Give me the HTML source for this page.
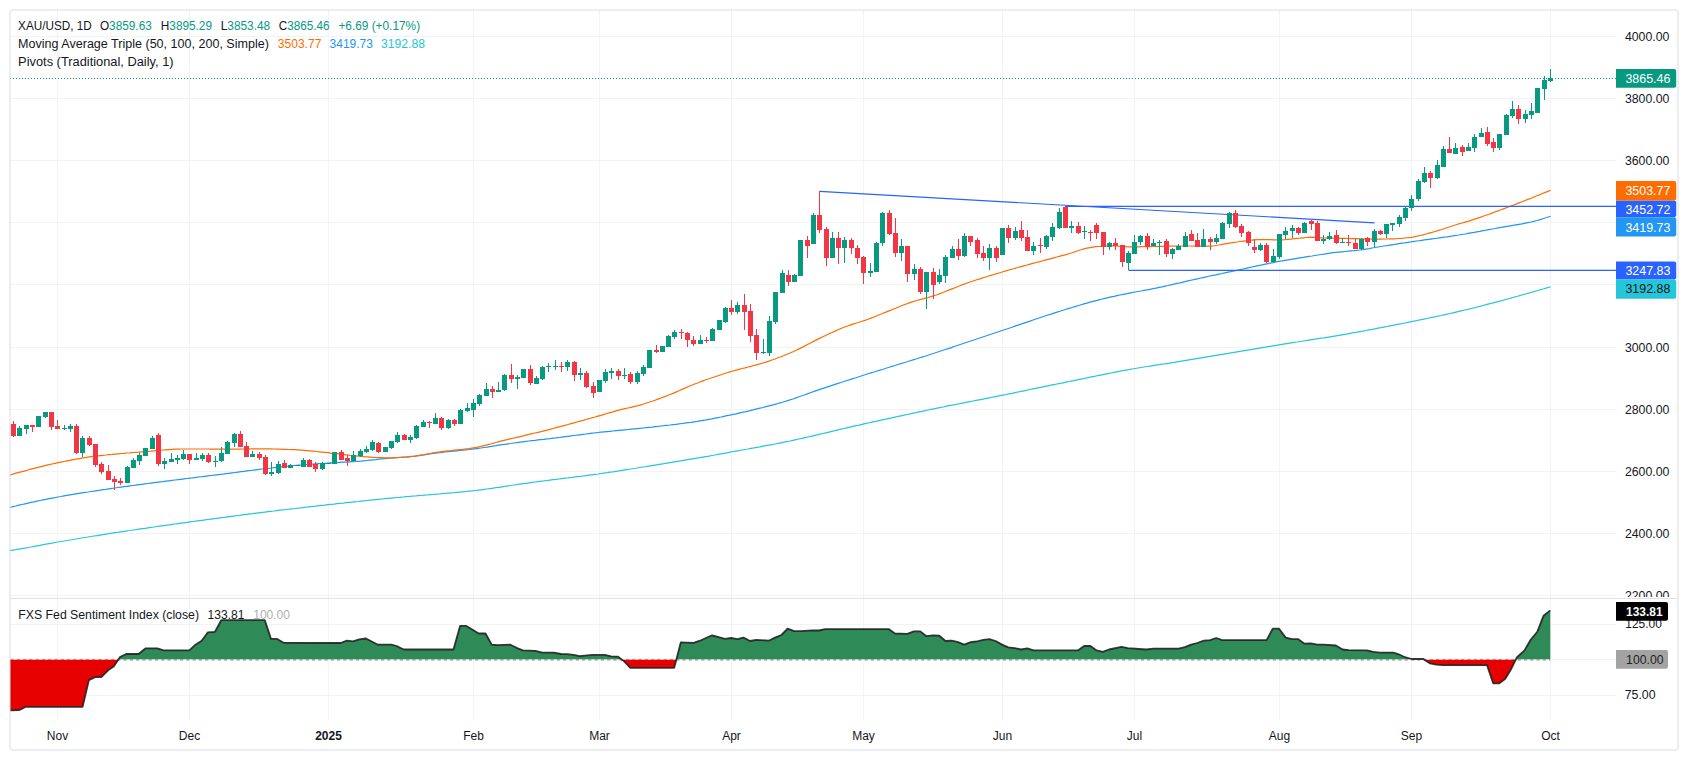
<!DOCTYPE html>
<html lang="en"><head><meta charset="utf-8"><title>XAU/USD 1D chart</title>
<style>html,body{margin:0;padding:0;background:#fff;width:1688px;height:762px;overflow:hidden}</style></head>
<body>
<svg width="1688" height="762" viewBox="0 0 1688 762" style="display:block;font-family:'Liberation Sans',sans-serif;font-size:12px">
<defs><clipPath id="cm"><rect x="10" y="10" width="1606" height="587.5"/></clipPath>
<clipPath id="cax"><rect x="1616" y="10" width="62" height="587"/></clipPath>
<clipPath id="cup"><rect x="0" y="598" width="1616" height="61.2"/></clipPath>
<clipPath id="cdn"><rect x="0" y="659.2" width="1616" height="62"/></clipPath></defs>
<rect width="1688" height="762" fill="#fff"/>
<path d="M57.5 10 V720.5 M189.5 10 V720.5 M328.5 10 V720.5 M473.5 10 V720.5 M599.5 10 V720.5 M731.5 10 V720.5 M863.5 10 V720.5 M1002.5 10 V720.5 M1134.5 10 V720.5 M1279.5 10 V720.5 M1411.5 10 V720.5 M1550.5 10 V720.5 M10 36.5 H1616 M10 98.5 H1616 M10 160.5 H1616 M10 222.5 H1616 M10 284.5 H1616 M10 347.5 H1616 M10 409.5 H1616 M10 471.5 H1616 M10 533.5 H1616 M10 595.5 H1616 M10 624.5 H1616 M10 695.5 H1616 M10 659.5 H1616" stroke="#f2f3f5" stroke-width="1" fill="none"/>
<path d="M10.5 659.8 H1550.3" stroke="#b2b2b2" stroke-width="2" stroke-dasharray="3.14 3.14" fill="none"/>
<path d="M10.0 659.2 L10.0 659.2 L10.7 659.2 L19.5 659.2 L25.8 659.2 L82.6 659.2 L88.9 659.2 L95.1 659.2 L101.3 659.2 L108.4 659.2 L113.7 659.2 L118.4 659.2 L120.0 657.0 L126.2 654.0 L138.6 654.0 L145.7 648.3 L157.3 648.3 L163.5 650.4 L189.3 650.4 L195.5 644.7 L201.7 640.7 L207.9 632.3 L215.0 631.8 L221.3 620.2 L264.8 620.2 L271.0 638.9 L277.2 638.9 L283.5 642.8 L340.6 643.0 L346.9 640.7 L353.1 641.4 L359.3 639.4 L365.9 638.5 L378.0 644.7 L391.3 644.7 L396.6 646.0 L403.7 649.5 L453.5 649.5 L460.1 625.9 L466.3 625.9 L472.2 629.6 L478.7 633.5 L485.5 633.5 L491.7 644.6 L497.9 645.1 L510.4 644.7 L516.6 647.8 L522.8 650.4 L535.2 650.8 L542.4 652.7 L553.9 652.7 L561.0 654.0 L567.2 654.2 L573.5 654.9 L579.7 656.1 L592.4 654.9 L604.9 654.9 L611.1 656.3 L617.7 656.6 L621.6 659.2 L623.9 659.2 L630.3 659.2 L674.2 659.2 L676.4 659.2 L680.8 642.4 L693.7 642.8 L700.0 640.7 L712.0 635.3 L718.6 637.1 L724.8 638.9 L731.1 638.0 L737.3 639.2 L743.5 637.6 L750.1 641.0 L756.3 639.8 L768.7 640.7 L775.1 637.6 L781.4 635.0 L787.6 628.6 L794.1 631.2 L800.4 631.2 L812.8 630.3 L819.0 630.5 L825.2 629.1 L888.7 629.1 L894.9 633.5 L907.3 633.9 L913.9 631.4 L920.3 631.4 L926.5 636.2 L933.1 635.3 L939.3 635.7 L945.5 641.0 L951.7 640.7 L958.0 642.1 L964.2 644.7 L970.8 642.1 L976.6 641.5 L983.2 639.8 L989.4 639.2 L995.6 641.0 L1002.0 644.6 L1008.3 647.4 L1014.8 648.1 L1021.1 649.5 L1027.3 648.3 L1033.5 650.4 L1077.9 650.4 L1084.1 646.0 L1090.4 646.0 L1096.6 650.4 L1102.8 651.8 L1109.0 649.5 L1121.5 646.9 L1127.7 648.1 L1146.3 649.5 L1153.5 648.6 L1178.7 648.6 L1184.9 647.2 L1191.1 644.6 L1197.3 643.0 L1203.9 640.7 L1210.3 640.1 L1216.2 638.0 L1222.2 640.1 L1266.6 640.1 L1272.8 628.7 L1279.1 628.7 L1285.6 637.6 L1292.0 639.2 L1298.3 639.2 L1304.5 643.7 L1310.7 643.3 L1317.3 644.6 L1323.5 644.6 L1335.9 645.5 L1342.5 649.5 L1348.7 650.1 L1367.0 650.4 L1373.3 651.8 L1379.8 652.7 L1393.3 652.7 L1398.7 654.3 L1404.9 657.2 L1411.6 659.0 L1423.5 659.0 L1424.1 659.2 L1430.1 659.2 L1436.3 659.2 L1443.1 659.2 L1487.0 659.2 L1493.2 659.2 L1499.4 659.2 L1505.3 659.2 L1510.6 659.2 L1515.9 659.2 L1516.8 657.5 L1524.5 650.4 L1530.7 639.8 L1537.3 631.8 L1543.5 615.8 L1550.3 610.4 L1550.3 659.2 Z" fill="#2e8b57"/>
<path d="M10.0 659.8 L10.0 710.4 L10.7 710.3 L19.5 710.0 L25.8 706.8 L82.6 706.8 L88.9 680.1 L95.1 677.1 L101.3 677.1 L108.4 670.0 L113.7 666.4 L118.4 659.8 L120.0 659.8 L126.2 659.8 L138.6 659.8 L145.7 659.8 L157.3 659.8 L163.5 659.8 L189.3 659.8 L195.5 659.8 L201.7 659.8 L207.9 659.8 L215.0 659.8 L221.3 659.8 L264.8 659.8 L271.0 659.8 L277.2 659.8 L283.5 659.8 L340.6 659.8 L346.9 659.8 L353.1 659.8 L359.3 659.8 L365.9 659.8 L378.0 659.8 L391.3 659.8 L396.6 659.8 L403.7 659.8 L453.5 659.8 L460.1 659.8 L466.3 659.8 L472.2 659.8 L478.7 659.8 L485.5 659.8 L491.7 659.8 L497.9 659.8 L510.4 659.8 L516.6 659.8 L522.8 659.8 L535.2 659.8 L542.4 659.8 L553.9 659.8 L561.0 659.8 L567.2 659.8 L573.5 659.8 L579.7 659.8 L592.4 659.8 L604.9 659.8 L611.1 659.8 L617.7 659.8 L621.6 659.8 L623.9 661.1 L630.3 667.8 L674.2 667.8 L676.4 659.8 L680.8 659.8 L693.7 659.8 L700.0 659.8 L712.0 659.8 L718.6 659.8 L724.8 659.8 L731.1 659.8 L737.3 659.8 L743.5 659.8 L750.1 659.8 L756.3 659.8 L768.7 659.8 L775.1 659.8 L781.4 659.8 L787.6 659.8 L794.1 659.8 L800.4 659.8 L812.8 659.8 L819.0 659.8 L825.2 659.8 L888.7 659.8 L894.9 659.8 L907.3 659.8 L913.9 659.8 L920.3 659.8 L926.5 659.8 L933.1 659.8 L939.3 659.8 L945.5 659.8 L951.7 659.8 L958.0 659.8 L964.2 659.8 L970.8 659.8 L976.6 659.8 L983.2 659.8 L989.4 659.8 L995.6 659.8 L1002.0 659.8 L1008.3 659.8 L1014.8 659.8 L1021.1 659.8 L1027.3 659.8 L1033.5 659.8 L1077.9 659.8 L1084.1 659.8 L1090.4 659.8 L1096.6 659.8 L1102.8 659.8 L1109.0 659.8 L1121.5 659.8 L1127.7 659.8 L1146.3 659.8 L1153.5 659.8 L1178.7 659.8 L1184.9 659.8 L1191.1 659.8 L1197.3 659.8 L1203.9 659.8 L1210.3 659.8 L1216.2 659.8 L1222.2 659.8 L1266.6 659.8 L1272.8 659.8 L1279.1 659.8 L1285.6 659.8 L1292.0 659.8 L1298.3 659.8 L1304.5 659.8 L1310.7 659.8 L1317.3 659.8 L1323.5 659.8 L1335.9 659.8 L1342.5 659.8 L1348.7 659.8 L1367.0 659.8 L1373.3 659.8 L1379.8 659.8 L1393.3 659.8 L1398.7 659.8 L1404.9 659.8 L1411.6 659.8 L1423.5 659.8 L1424.1 659.8 L1430.1 663.4 L1436.3 664.6 L1443.1 665.2 L1487.0 665.2 L1493.2 683.3 L1499.4 683.3 L1505.3 678.9 L1510.6 670.0 L1515.9 659.8 L1516.8 659.8 L1524.5 659.8 L1530.7 659.8 L1537.3 659.8 L1543.5 659.8 L1550.3 659.8 L1550.3 659.8 Z" fill="#e60000"/>
<path d="M10.0 710.4 L10.7 710.3 L19.5 710.0 L25.8 706.8 L82.6 706.8 L88.9 680.1 L95.1 677.1 L101.3 677.1 L108.4 670.0 L113.7 666.4 L118.4 659.4 L120.0 657.0 L126.2 654.0 L138.6 654.0 L145.7 648.3 L157.3 648.3 L163.5 650.4 L189.3 650.4 L195.5 644.7 L201.7 640.7 L207.9 632.3 L215.0 631.8 L221.3 620.2 L264.8 620.2 L271.0 638.9 L277.2 638.9 L283.5 642.8 L340.6 643.0 L346.9 640.7 L353.1 641.4 L359.3 639.4 L365.9 638.5 L378.0 644.7 L391.3 644.7 L396.6 646.0 L403.7 649.5 L453.5 649.5 L460.1 625.9 L466.3 625.9 L472.2 629.6 L478.7 633.5 L485.5 633.5 L491.7 644.6 L497.9 645.1 L510.4 644.7 L516.6 647.8 L522.8 650.4 L535.2 650.8 L542.4 652.7 L553.9 652.7 L561.0 654.0 L567.2 654.2 L573.5 654.9 L579.7 656.1 L592.4 654.9 L604.9 654.9 L611.1 656.3 L617.7 656.6 L621.6 659.4 L623.9 661.1 L630.3 667.8 L674.2 667.8 L676.4 659.4 L680.8 642.4 L693.7 642.8 L700.0 640.7 L712.0 635.3 L718.6 637.1 L724.8 638.9 L731.1 638.0 L737.3 639.2 L743.5 637.6 L750.1 641.0 L756.3 639.8 L768.7 640.7 L775.1 637.6 L781.4 635.0 L787.6 628.6 L794.1 631.2 L800.4 631.2 L812.8 630.3 L819.0 630.5 L825.2 629.1 L888.7 629.1 L894.9 633.5 L907.3 633.9 L913.9 631.4 L920.3 631.4 L926.5 636.2 L933.1 635.3 L939.3 635.7 L945.5 641.0 L951.7 640.7 L958.0 642.1 L964.2 644.7 L970.8 642.1 L976.6 641.5 L983.2 639.8 L989.4 639.2 L995.6 641.0 L1002.0 644.6 L1008.3 647.4 L1014.8 648.1 L1021.1 649.5 L1027.3 648.3 L1033.5 650.4 L1077.9 650.4 L1084.1 646.0 L1090.4 646.0 L1096.6 650.4 L1102.8 651.8 L1109.0 649.5 L1121.5 646.9 L1127.7 648.1 L1146.3 649.5 L1153.5 648.6 L1178.7 648.6 L1184.9 647.2 L1191.1 644.6 L1197.3 643.0 L1203.9 640.7 L1210.3 640.1 L1216.2 638.0 L1222.2 640.1 L1266.6 640.1 L1272.8 628.7 L1279.1 628.7 L1285.6 637.6 L1292.0 639.2 L1298.3 639.2 L1304.5 643.7 L1310.7 643.3 L1317.3 644.6 L1323.5 644.6 L1335.9 645.5 L1342.5 649.5 L1348.7 650.1 L1367.0 650.4 L1373.3 651.8 L1379.8 652.7 L1393.3 652.7 L1398.7 654.3 L1404.9 657.2 L1411.6 659.0 L1423.5 659.0 L1424.1 659.4 L1430.1 663.4 L1436.3 664.6 L1443.1 665.2 L1487.0 665.2 L1493.2 683.3 L1499.4 683.3 L1505.3 678.9 L1510.6 670.0 L1515.9 659.4 L1516.8 657.5 L1524.5 650.4 L1530.7 639.8 L1537.3 631.8 L1543.5 615.8 L1550.3 610.4" fill="none" stroke="#222" stroke-opacity="0.9" stroke-width="1.8" stroke-linejoin="round"/>
<g clip-path="url(#cm)">
<path d="M10.0 550.6 L13.0 550.1 L16.0 549.7 L19.0 549.1 L22.0 548.6 L25.0 548.1 L28.0 547.5 L31.0 547.0 L34.0 546.4 L37.0 545.8 L40.0 545.3 L43.0 544.7 L46.0 544.2 L49.0 543.6 L52.0 543.1 L55.0 542.5 L58.0 542.0 L61.0 541.5 L64.0 541.0 L67.0 540.5 L70.0 540.0 L73.0 539.5 L76.0 539.0 L79.0 538.5 L82.0 538.0 L85.0 537.5 L88.0 537.0 L91.0 536.5 L94.0 536.0 L97.0 535.6 L100.0 535.1 L103.0 534.6 L106.0 534.1 L109.0 533.7 L112.0 533.2 L115.0 532.7 L118.0 532.3 L121.0 531.8 L124.0 531.4 L127.0 530.9 L130.0 530.5 L133.0 530.0 L136.0 529.6 L139.0 529.1 L142.0 528.7 L145.0 528.3 L148.0 527.8 L151.0 527.4 L154.0 527.0 L157.0 526.5 L160.0 526.1 L163.0 525.7 L166.0 525.3 L169.0 524.9 L172.0 524.4 L175.0 524.0 L178.0 523.6 L181.0 523.2 L184.0 522.8 L187.0 522.4 L190.0 521.9 L193.0 521.5 L196.0 521.1 L199.0 520.7 L202.0 520.3 L205.0 519.9 L208.0 519.5 L211.0 519.1 L214.0 518.7 L217.0 518.3 L220.0 517.9 L223.0 517.5 L226.0 517.1 L229.0 516.7 L232.0 516.3 L235.0 515.9 L238.0 515.5 L241.0 515.1 L244.0 514.7 L247.0 514.3 L250.0 513.9 L253.0 513.6 L256.0 513.2 L259.0 512.8 L262.0 512.4 L265.0 512.1 L268.0 511.7 L271.0 511.3 L274.0 511.0 L277.0 510.6 L280.0 510.2 L283.0 509.9 L286.0 509.5 L289.0 509.2 L292.0 508.8 L295.0 508.5 L298.0 508.1 L301.0 507.8 L304.0 507.4 L307.0 507.1 L310.0 506.7 L313.0 506.4 L316.0 506.1 L319.0 505.7 L322.0 505.4 L325.0 505.1 L328.0 504.7 L331.0 504.4 L334.0 504.1 L337.0 503.7 L340.0 503.4 L343.0 503.1 L346.0 502.7 L349.0 502.4 L352.0 502.1 L355.0 501.8 L358.0 501.5 L361.0 501.1 L364.0 500.8 L367.0 500.5 L370.0 500.2 L373.0 499.9 L376.0 499.6 L379.0 499.3 L382.0 499.0 L385.0 498.7 L388.0 498.4 L391.0 498.1 L394.0 497.8 L397.0 497.5 L400.0 497.3 L403.0 497.0 L406.0 496.7 L409.0 496.5 L412.0 496.2 L415.0 496.0 L418.0 495.7 L421.0 495.5 L424.0 495.2 L427.0 495.0 L430.0 494.7 L433.0 494.5 L436.0 494.2 L439.0 494.0 L442.0 493.7 L445.0 493.5 L448.0 493.2 L451.0 492.9 L454.0 492.7 L457.0 492.4 L460.0 492.1 L463.0 491.8 L466.0 491.5 L469.0 491.2 L472.0 490.9 L475.0 490.5 L478.0 490.2 L481.0 489.8 L484.0 489.4 L487.0 489.0 L490.0 488.6 L493.0 488.2 L496.0 487.7 L499.0 487.3 L502.0 486.8 L505.0 486.4 L508.0 485.9 L511.0 485.5 L514.0 485.0 L517.0 484.6 L520.0 484.1 L523.0 483.7 L526.0 483.3 L529.0 482.8 L532.0 482.4 L535.0 482.0 L538.0 481.6 L541.0 481.2 L544.0 480.9 L547.0 480.5 L550.0 480.1 L553.0 479.7 L556.0 479.4 L559.0 479.0 L562.0 478.6 L565.0 478.2 L568.0 477.9 L571.0 477.5 L574.0 477.1 L577.0 476.7 L580.0 476.4 L583.0 476.0 L586.0 475.6 L589.0 475.2 L592.0 474.8 L595.0 474.4 L598.0 474.0 L601.0 473.5 L604.0 473.1 L607.0 472.7 L610.0 472.2 L613.0 471.8 L616.0 471.3 L619.0 470.9 L622.0 470.4 L625.0 469.9 L628.0 469.4 L631.0 469.0 L634.0 468.5 L637.0 468.0 L640.0 467.5 L643.0 467.0 L646.0 466.6 L649.0 466.1 L652.0 465.6 L655.0 465.1 L658.0 464.6 L661.0 464.1 L664.0 463.7 L667.0 463.2 L670.0 462.7 L673.0 462.2 L676.0 461.7 L679.0 461.2 L682.0 460.7 L685.0 460.2 L688.0 459.7 L691.0 459.2 L694.0 458.7 L697.0 458.2 L700.0 457.7 L703.0 457.1 L706.0 456.6 L709.0 456.1 L712.0 455.5 L715.0 455.0 L718.0 454.4 L721.0 453.9 L724.0 453.3 L727.0 452.8 L730.0 452.2 L733.0 451.7 L736.0 451.1 L739.0 450.6 L742.0 450.0 L745.0 449.5 L748.0 449.0 L751.0 448.4 L754.0 447.9 L757.0 447.3 L760.0 446.8 L763.0 446.2 L766.0 445.7 L769.0 445.1 L772.0 444.6 L775.0 444.0 L778.0 443.4 L781.0 442.8 L784.0 442.2 L787.0 441.6 L790.0 441.0 L793.0 440.3 L796.0 439.7 L799.0 439.0 L802.0 438.4 L805.0 437.7 L808.0 437.0 L811.0 436.3 L814.0 435.6 L817.0 434.9 L820.0 434.2 L823.0 433.5 L826.0 432.8 L829.0 432.1 L832.0 431.4 L835.0 430.7 L838.0 429.9 L841.0 429.2 L844.0 428.5 L847.0 427.8 L850.0 427.1 L853.0 426.4 L856.0 425.7 L859.0 425.1 L862.0 424.4 L865.0 423.7 L868.0 423.0 L871.0 422.4 L874.0 421.7 L877.0 421.1 L880.0 420.4 L883.0 419.7 L886.0 419.1 L889.0 418.4 L892.0 417.8 L895.0 417.1 L898.0 416.4 L901.0 415.8 L904.0 415.1 L907.0 414.5 L910.0 413.9 L913.0 413.2 L916.0 412.6 L919.0 411.9 L922.0 411.3 L925.0 410.7 L928.0 410.0 L931.0 409.4 L934.0 408.8 L937.0 408.2 L940.0 407.6 L943.0 407.0 L946.0 406.3 L949.0 405.7 L952.0 405.1 L955.0 404.6 L958.0 404.0 L961.0 403.4 L964.0 402.8 L967.0 402.2 L970.0 401.6 L973.0 401.0 L976.0 400.4 L979.0 399.8 L982.0 399.3 L985.0 398.7 L988.0 398.1 L991.0 397.5 L994.0 396.9 L997.0 396.3 L1000.0 395.7 L1003.0 395.1 L1006.0 394.5 L1009.0 393.9 L1012.0 393.3 L1015.0 392.6 L1018.0 392.0 L1021.0 391.4 L1024.0 390.8 L1027.0 390.2 L1030.0 389.5 L1033.0 388.9 L1036.0 388.3 L1039.0 387.7 L1042.0 387.1 L1045.0 386.4 L1048.0 385.8 L1051.0 385.2 L1054.0 384.6 L1057.0 384.0 L1060.0 383.4 L1063.0 382.8 L1066.0 382.1 L1069.0 381.5 L1072.0 380.9 L1075.0 380.3 L1078.0 379.7 L1081.0 379.1 L1084.0 378.5 L1087.0 377.9 L1090.0 377.2 L1093.0 376.6 L1096.0 376.0 L1099.0 375.4 L1102.0 374.8 L1105.0 374.2 L1108.0 373.6 L1111.0 373.0 L1114.0 372.4 L1117.0 371.8 L1120.0 371.2 L1123.0 370.7 L1126.0 370.1 L1129.0 369.6 L1132.0 369.0 L1135.0 368.5 L1138.0 368.0 L1141.0 367.5 L1144.0 367.0 L1147.0 366.5 L1150.0 366.1 L1153.0 365.6 L1156.0 365.1 L1159.0 364.7 L1162.0 364.2 L1165.0 363.8 L1168.0 363.3 L1171.0 362.8 L1174.0 362.4 L1177.0 361.9 L1180.0 361.4 L1183.0 360.9 L1186.0 360.4 L1189.0 359.9 L1192.0 359.4 L1195.0 358.9 L1198.0 358.4 L1201.0 357.9 L1204.0 357.4 L1207.0 356.9 L1210.0 356.4 L1213.0 355.9 L1216.0 355.4 L1219.0 354.9 L1222.0 354.4 L1225.0 353.9 L1228.0 353.4 L1231.0 352.8 L1234.0 352.3 L1237.0 351.8 L1240.0 351.3 L1243.0 350.8 L1246.0 350.3 L1249.0 349.8 L1252.0 349.3 L1255.0 348.8 L1258.0 348.3 L1261.0 347.8 L1264.0 347.3 L1267.0 346.8 L1270.0 346.3 L1273.0 345.8 L1276.0 345.3 L1279.0 344.8 L1282.0 344.3 L1285.0 343.8 L1288.0 343.4 L1291.0 342.9 L1294.0 342.4 L1297.0 342.0 L1300.0 341.5 L1303.0 341.0 L1306.0 340.6 L1309.0 340.1 L1312.0 339.6 L1315.0 339.2 L1318.0 338.7 L1321.0 338.2 L1324.0 337.8 L1327.0 337.3 L1330.0 336.8 L1333.0 336.3 L1336.0 335.8 L1339.0 335.3 L1342.0 334.8 L1345.0 334.3 L1348.0 333.8 L1351.0 333.2 L1354.0 332.7 L1357.0 332.2 L1360.0 331.6 L1363.0 331.1 L1366.0 330.5 L1369.0 329.9 L1372.0 329.4 L1375.0 328.8 L1378.0 328.2 L1381.0 327.7 L1384.0 327.1 L1387.0 326.5 L1390.0 325.9 L1393.0 325.3 L1396.0 324.7 L1399.0 324.1 L1402.0 323.6 L1405.0 323.0 L1408.0 322.3 L1411.0 321.7 L1414.0 321.1 L1417.0 320.5 L1420.0 319.9 L1423.0 319.3 L1426.0 318.7 L1429.0 318.0 L1432.0 317.4 L1435.0 316.8 L1438.0 316.1 L1441.0 315.5 L1444.0 314.8 L1447.0 314.2 L1450.0 313.5 L1453.0 312.8 L1456.0 312.1 L1459.0 311.4 L1462.0 310.7 L1465.0 310.0 L1468.0 309.3 L1471.0 308.5 L1474.0 307.8 L1477.0 307.0 L1480.0 306.3 L1483.0 305.5 L1486.0 304.7 L1489.0 303.9 L1492.0 303.2 L1495.0 302.4 L1498.0 301.6 L1501.0 300.8 L1504.0 300.0 L1507.0 299.2 L1510.0 298.3 L1513.0 297.5 L1516.0 296.7 L1519.0 295.8 L1522.0 295.0 L1525.0 294.2 L1528.0 293.3 L1531.0 292.5 L1534.0 291.6 L1537.0 290.7 L1540.0 289.8 L1543.0 289.0 L1546.0 288.1 L1549.0 287.2 L1550.6 286.7" fill="none" stroke="#26c6da" stroke-width="1.2"/>
<path d="M10.0 507.5 L13.0 506.7 L16.0 506.0 L19.0 505.2 L22.0 504.5 L25.0 503.8 L28.0 503.1 L31.0 502.4 L34.0 501.8 L37.0 501.1 L40.0 500.5 L43.0 499.9 L46.0 499.3 L49.0 498.7 L52.0 498.1 L55.0 497.6 L58.0 497.0 L61.0 496.5 L64.0 495.9 L67.0 495.4 L70.0 494.9 L73.0 494.4 L76.0 493.9 L79.0 493.4 L82.0 492.9 L85.0 492.4 L88.0 492.0 L91.0 491.5 L94.0 491.1 L97.0 490.6 L100.0 490.2 L103.0 489.7 L106.0 489.3 L109.0 488.8 L112.0 488.4 L115.0 488.0 L118.0 487.5 L121.0 487.1 L124.0 486.7 L127.0 486.3 L130.0 485.9 L133.0 485.5 L136.0 485.1 L139.0 484.7 L142.0 484.3 L145.0 483.9 L148.0 483.5 L151.0 483.1 L154.0 482.7 L157.0 482.3 L160.0 481.9 L163.0 481.6 L166.0 481.2 L169.0 480.8 L172.0 480.4 L175.0 480.0 L178.0 479.7 L181.0 479.3 L184.0 478.9 L187.0 478.5 L190.0 478.1 L193.0 477.8 L196.0 477.4 L199.0 477.0 L202.0 476.7 L205.0 476.3 L208.0 475.9 L211.0 475.5 L214.0 475.2 L217.0 474.8 L220.0 474.4 L223.0 474.1 L226.0 473.7 L229.0 473.3 L232.0 472.9 L235.0 472.5 L238.0 472.1 L241.0 471.7 L244.0 471.3 L247.0 470.9 L250.0 470.5 L253.0 470.2 L256.0 469.8 L259.0 469.4 L262.0 469.0 L265.0 468.7 L268.0 468.3 L271.0 468.0 L274.0 467.6 L277.0 467.3 L280.0 467.0 L283.0 466.6 L286.0 466.3 L289.0 466.0 L292.0 465.7 L295.0 465.5 L298.0 465.2 L301.0 465.0 L304.0 464.7 L307.0 464.5 L310.0 464.3 L313.0 464.1 L316.0 463.9 L319.0 463.7 L322.0 463.5 L325.0 463.3 L328.0 463.1 L331.0 462.9 L334.0 462.8 L337.0 462.6 L340.0 462.4 L343.0 462.2 L346.0 462.1 L349.0 461.9 L352.0 461.7 L355.0 461.5 L358.0 461.3 L361.0 461.1 L364.0 460.8 L367.0 460.5 L370.0 460.2 L373.0 459.9 L376.0 459.6 L379.0 459.2 L382.0 458.9 L385.0 458.6 L388.0 458.3 L391.0 458.1 L394.0 457.8 L397.0 457.6 L400.0 457.4 L403.0 457.2 L406.0 457.0 L409.0 456.7 L412.0 456.4 L415.0 456.1 L418.0 455.7 L421.0 455.3 L424.0 454.9 L427.0 454.4 L430.0 453.9 L433.0 453.5 L436.0 453.1 L439.0 452.7 L442.0 452.3 L445.0 452.0 L448.0 451.7 L451.0 451.4 L454.0 451.1 L457.0 450.8 L460.0 450.5 L463.0 450.2 L466.0 449.9 L469.0 449.5 L472.0 449.2 L475.0 448.8 L478.0 448.4 L481.0 448.0 L484.0 447.5 L487.0 447.1 L490.0 446.6 L493.0 446.1 L496.0 445.7 L499.0 445.2 L502.0 444.7 L505.0 444.3 L508.0 443.9 L511.0 443.5 L514.0 443.0 L517.0 442.6 L520.0 442.2 L523.0 441.8 L526.0 441.4 L529.0 441.0 L532.0 440.6 L535.0 440.3 L538.0 439.9 L541.0 439.6 L544.0 439.3 L547.0 438.9 L550.0 438.6 L553.0 438.2 L556.0 437.9 L559.0 437.5 L562.0 437.1 L565.0 436.7 L568.0 436.3 L571.0 435.9 L574.0 435.5 L577.0 435.2 L580.0 434.8 L583.0 434.4 L586.0 434.0 L589.0 433.6 L592.0 433.2 L595.0 432.9 L598.0 432.5 L601.0 432.2 L604.0 431.9 L607.0 431.6 L610.0 431.3 L613.0 431.0 L616.0 430.7 L619.0 430.4 L622.0 430.1 L625.0 429.8 L628.0 429.5 L631.0 429.2 L634.0 428.9 L637.0 428.6 L640.0 428.3 L643.0 428.0 L646.0 427.7 L649.0 427.4 L652.0 427.1 L655.0 426.7 L658.0 426.4 L661.0 426.0 L664.0 425.7 L667.0 425.3 L670.0 425.0 L673.0 424.6 L676.0 424.3 L679.0 423.9 L682.0 423.5 L685.0 423.1 L688.0 422.7 L691.0 422.3 L694.0 421.8 L697.0 421.4 L700.0 420.9 L703.0 420.4 L706.0 419.9 L709.0 419.3 L712.0 418.8 L715.0 418.2 L718.0 417.6 L721.0 417.0 L724.0 416.3 L727.0 415.7 L730.0 415.1 L733.0 414.4 L736.0 413.8 L739.0 413.1 L742.0 412.4 L745.0 411.8 L748.0 411.1 L751.0 410.4 L754.0 409.7 L757.0 408.9 L760.0 408.2 L763.0 407.5 L766.0 406.7 L769.0 405.9 L772.0 405.1 L775.0 404.3 L778.0 403.5 L781.0 402.7 L784.0 401.8 L787.0 400.9 L790.0 399.9 L793.0 399.0 L796.0 397.9 L799.0 396.8 L802.0 395.8 L805.0 394.7 L808.0 393.6 L811.0 392.5 L814.0 391.4 L817.0 390.4 L820.0 389.4 L823.0 388.4 L826.0 387.4 L829.0 386.4 L832.0 385.4 L835.0 384.4 L838.0 383.4 L841.0 382.5 L844.0 381.5 L847.0 380.5 L850.0 379.6 L853.0 378.6 L856.0 377.7 L859.0 376.7 L862.0 375.7 L865.0 374.8 L868.0 373.8 L871.0 372.9 L874.0 372.0 L877.0 371.0 L880.0 370.1 L883.0 369.2 L886.0 368.2 L889.0 367.3 L892.0 366.4 L895.0 365.5 L898.0 364.5 L901.0 363.6 L904.0 362.7 L907.0 361.8 L910.0 360.8 L913.0 359.9 L916.0 359.0 L919.0 358.0 L922.0 357.1 L925.0 356.2 L928.0 355.2 L931.0 354.2 L934.0 353.3 L937.0 352.3 L940.0 351.3 L943.0 350.3 L946.0 349.3 L949.0 348.4 L952.0 347.4 L955.0 346.3 L958.0 345.3 L961.0 344.3 L964.0 343.3 L967.0 342.3 L970.0 341.3 L973.0 340.3 L976.0 339.3 L979.0 338.2 L982.0 337.2 L985.0 336.2 L988.0 335.2 L991.0 334.2 L994.0 333.2 L997.0 332.2 L1000.0 331.2 L1003.0 330.2 L1006.0 329.2 L1009.0 328.2 L1012.0 327.2 L1015.0 326.1 L1018.0 325.1 L1021.0 324.1 L1024.0 323.1 L1027.0 322.1 L1030.0 321.1 L1033.0 320.0 L1036.0 319.0 L1039.0 318.0 L1042.0 317.0 L1045.0 316.0 L1048.0 315.0 L1051.0 314.1 L1054.0 313.1 L1057.0 312.1 L1060.0 311.2 L1063.0 310.2 L1066.0 309.3 L1069.0 308.4 L1072.0 307.5 L1075.0 306.6 L1078.0 305.7 L1081.0 304.8 L1084.0 303.9 L1087.0 303.1 L1090.0 302.2 L1093.0 301.4 L1096.0 300.6 L1099.0 299.8 L1102.0 299.0 L1105.0 298.3 L1108.0 297.6 L1111.0 296.9 L1114.0 296.3 L1117.0 295.6 L1120.0 295.0 L1123.0 294.4 L1126.0 293.8 L1129.0 293.2 L1132.0 292.6 L1135.0 292.0 L1138.0 291.5 L1141.0 291.0 L1144.0 290.4 L1147.0 289.9 L1150.0 289.3 L1153.0 288.7 L1156.0 288.1 L1159.0 287.4 L1162.0 286.8 L1165.0 286.1 L1168.0 285.5 L1171.0 284.8 L1174.0 284.1 L1177.0 283.4 L1180.0 282.8 L1183.0 282.1 L1186.0 281.4 L1189.0 280.7 L1192.0 280.0 L1195.0 279.3 L1198.0 278.7 L1201.0 278.0 L1204.0 277.3 L1207.0 276.7 L1210.0 276.0 L1213.0 275.4 L1216.0 274.8 L1219.0 274.1 L1222.0 273.5 L1225.0 272.8 L1228.0 272.2 L1231.0 271.6 L1234.0 270.9 L1237.0 270.3 L1240.0 269.7 L1243.0 269.0 L1246.0 268.3 L1249.0 267.7 L1252.0 267.0 L1255.0 266.4 L1258.0 265.7 L1261.0 265.1 L1264.0 264.4 L1267.0 263.8 L1270.0 263.2 L1273.0 262.6 L1276.0 262.0 L1279.0 261.4 L1282.0 260.9 L1285.0 260.3 L1288.0 259.8 L1291.0 259.3 L1294.0 258.8 L1297.0 258.3 L1300.0 257.8 L1303.0 257.4 L1306.0 256.9 L1309.0 256.4 L1312.0 256.0 L1315.0 255.5 L1318.0 255.0 L1321.0 254.5 L1324.0 254.1 L1327.0 253.6 L1330.0 253.1 L1333.0 252.7 L1336.0 252.4 L1339.0 252.1 L1342.0 251.8 L1345.0 251.5 L1348.0 251.2 L1351.0 250.9 L1354.0 250.7 L1357.0 250.3 L1360.0 250.0 L1363.0 249.6 L1366.0 249.1 L1369.0 248.6 L1372.0 248.0 L1375.0 247.5 L1378.0 247.0 L1381.0 246.5 L1384.0 246.0 L1387.0 245.6 L1390.0 245.1 L1393.0 244.6 L1396.0 244.2 L1399.0 243.7 L1402.0 243.2 L1405.0 242.8 L1408.0 242.3 L1411.0 241.9 L1414.0 241.4 L1417.0 241.0 L1420.0 240.6 L1423.0 240.1 L1426.0 239.7 L1429.0 239.3 L1432.0 238.9 L1435.0 238.5 L1438.0 238.1 L1441.0 237.6 L1444.0 237.2 L1447.0 236.8 L1450.0 236.3 L1453.0 235.9 L1456.0 235.4 L1459.0 235.0 L1462.0 234.5 L1465.0 234.0 L1468.0 233.4 L1471.0 232.9 L1474.0 232.4 L1477.0 231.8 L1480.0 231.3 L1483.0 230.7 L1486.0 230.2 L1489.0 229.6 L1492.0 229.0 L1495.0 228.5 L1498.0 227.9 L1501.0 227.4 L1504.0 226.8 L1507.0 226.3 L1510.0 225.8 L1513.0 225.3 L1516.0 224.8 L1519.0 224.3 L1522.0 223.8 L1525.0 223.2 L1528.0 222.6 L1531.0 222.0 L1534.0 221.3 L1537.0 220.5 L1540.0 219.6 L1543.0 218.7 L1546.0 217.8 L1549.0 216.8 L1550.6 216.3" fill="none" stroke="#2196f3" stroke-width="1.2"/>
<path d="M10.0 474.9 L13.0 474.1 L16.0 473.2 L19.0 472.4 L22.0 471.6 L25.0 470.8 L28.0 470.0 L31.0 469.2 L34.0 468.4 L37.0 467.6 L40.0 466.9 L43.0 466.1 L46.0 465.4 L49.0 464.7 L52.0 464.0 L55.0 463.4 L58.0 462.7 L61.0 462.1 L64.0 461.5 L67.0 460.9 L70.0 460.3 L73.0 459.7 L76.0 459.2 L79.0 458.6 L82.0 458.1 L85.0 457.6 L88.0 457.2 L91.0 456.7 L94.0 456.3 L97.0 456.0 L100.0 455.6 L103.0 455.3 L106.0 455.0 L109.0 454.6 L112.0 454.4 L115.0 454.1 L118.0 453.8 L121.0 453.5 L124.0 453.3 L127.0 453.0 L130.0 452.8 L133.0 452.5 L136.0 452.3 L139.0 452.1 L142.0 451.8 L145.0 451.6 L148.0 451.3 L151.0 451.1 L154.0 450.8 L157.0 450.5 L160.0 450.3 L163.0 450.0 L166.0 449.8 L169.0 449.6 L172.0 449.4 L175.0 449.2 L178.0 449.1 L181.0 449.0 L184.0 449.0 L187.0 449.0 L190.0 449.0 L193.0 449.0 L196.0 449.0 L199.0 449.0 L202.0 449.0 L205.0 449.0 L208.0 449.0 L211.0 449.1 L214.0 449.1 L217.0 449.1 L220.0 449.1 L223.0 449.1 L226.0 449.1 L229.0 449.1 L232.0 449.1 L235.0 449.1 L238.0 449.1 L241.0 449.1 L244.0 449.0 L247.0 449.0 L250.0 448.9 L253.0 448.9 L256.0 448.8 L259.0 448.8 L262.0 448.8 L265.0 448.8 L268.0 448.9 L271.0 448.9 L274.0 449.0 L277.0 449.1 L280.0 449.2 L283.0 449.3 L286.0 449.3 L289.0 449.5 L292.0 449.6 L295.0 449.7 L298.0 449.9 L301.0 450.1 L304.0 450.3 L307.0 450.6 L310.0 450.9 L313.0 451.2 L316.0 451.5 L319.0 451.8 L322.0 452.1 L325.0 452.4 L328.0 452.7 L331.0 453.1 L334.0 453.4 L337.0 453.7 L340.0 454.1 L343.0 454.4 L346.0 454.8 L349.0 455.2 L352.0 455.5 L355.0 455.8 L358.0 456.1 L361.0 456.4 L364.0 456.7 L367.0 456.9 L370.0 457.1 L373.0 457.3 L376.0 457.5 L379.0 457.6 L382.0 457.7 L385.0 457.8 L388.0 457.8 L391.0 457.8 L394.0 457.7 L397.0 457.6 L400.0 457.5 L403.0 457.3 L406.0 457.1 L409.0 456.8 L412.0 456.5 L415.0 456.1 L418.0 455.6 L421.0 455.1 L424.0 454.6 L427.0 454.0 L430.0 453.5 L433.0 452.9 L436.0 452.4 L439.0 452.0 L442.0 451.6 L445.0 451.2 L448.0 450.9 L451.0 450.6 L454.0 450.2 L457.0 449.9 L460.0 449.6 L463.0 449.3 L466.0 448.9 L469.0 448.6 L472.0 448.1 L475.0 447.6 L478.0 447.1 L481.0 446.4 L484.0 445.7 L487.0 444.9 L490.0 444.2 L493.0 443.3 L496.0 442.5 L499.0 441.7 L502.0 440.9 L505.0 440.1 L508.0 439.4 L511.0 438.7 L514.0 438.0 L517.0 437.3 L520.0 436.6 L523.0 435.9 L526.0 435.1 L529.0 434.4 L532.0 433.7 L535.0 433.0 L538.0 432.3 L541.0 431.6 L544.0 430.8 L547.0 430.1 L550.0 429.3 L553.0 428.5 L556.0 427.7 L559.0 426.9 L562.0 426.1 L565.0 425.3 L568.0 424.5 L571.0 423.7 L574.0 422.9 L577.0 422.0 L580.0 421.2 L583.0 420.4 L586.0 419.5 L589.0 418.7 L592.0 417.8 L595.0 417.0 L598.0 416.1 L601.0 415.3 L604.0 414.4 L607.0 413.5 L610.0 412.6 L613.0 411.8 L616.0 410.9 L619.0 410.1 L622.0 409.4 L625.0 408.7 L628.0 408.0 L631.0 407.3 L634.0 406.6 L637.0 405.9 L640.0 405.1 L643.0 404.2 L646.0 403.2 L649.0 402.3 L652.0 401.3 L655.0 400.2 L658.0 399.1 L661.0 398.0 L664.0 396.9 L667.0 395.7 L670.0 394.5 L673.0 393.4 L676.0 392.1 L679.0 390.8 L682.0 389.4 L685.0 388.1 L688.0 386.7 L691.0 385.5 L694.0 384.3 L697.0 383.2 L700.0 382.0 L703.0 380.9 L706.0 379.8 L709.0 378.8 L712.0 377.7 L715.0 376.7 L718.0 375.7 L721.0 374.7 L724.0 373.7 L727.0 372.8 L730.0 371.9 L733.0 371.0 L736.0 370.1 L739.0 369.3 L742.0 368.5 L745.0 367.8 L748.0 367.0 L751.0 366.3 L754.0 365.5 L757.0 364.7 L760.0 363.9 L763.0 363.0 L766.0 362.1 L769.0 361.1 L772.0 360.0 L775.0 359.0 L778.0 357.8 L781.0 356.7 L784.0 355.5 L787.0 354.2 L790.0 353.0 L793.0 351.7 L796.0 350.3 L799.0 348.9 L802.0 347.4 L805.0 345.9 L808.0 344.3 L811.0 342.7 L814.0 341.1 L817.0 339.6 L820.0 338.1 L823.0 336.7 L826.0 335.3 L829.0 333.8 L832.0 332.5 L835.0 331.1 L838.0 329.8 L841.0 328.5 L844.0 327.3 L847.0 326.2 L850.0 325.1 L853.0 324.1 L856.0 323.2 L859.0 322.3 L862.0 321.3 L865.0 320.4 L868.0 319.3 L871.0 318.1 L874.0 317.0 L877.0 315.8 L880.0 314.5 L883.0 313.3 L886.0 312.1 L889.0 310.9 L892.0 309.7 L895.0 308.5 L898.0 307.2 L901.0 306.0 L904.0 304.8 L907.0 303.7 L910.0 302.6 L913.0 301.6 L916.0 300.7 L919.0 299.8 L922.0 299.1 L925.0 298.3 L928.0 297.5 L931.0 296.6 L934.0 295.7 L937.0 294.7 L940.0 293.6 L943.0 292.5 L946.0 291.3 L949.0 290.1 L952.0 288.9 L955.0 287.7 L958.0 286.5 L961.0 285.3 L964.0 284.1 L967.0 283.0 L970.0 282.0 L973.0 281.0 L976.0 280.0 L979.0 279.1 L982.0 278.1 L985.0 277.2 L988.0 276.3 L991.0 275.4 L994.0 274.5 L997.0 273.6 L1000.0 272.7 L1003.0 271.8 L1006.0 270.9 L1009.0 270.0 L1012.0 269.2 L1015.0 268.3 L1018.0 267.5 L1021.0 266.6 L1024.0 265.8 L1027.0 265.0 L1030.0 264.1 L1033.0 263.3 L1036.0 262.5 L1039.0 261.8 L1042.0 261.0 L1045.0 260.2 L1048.0 259.4 L1051.0 258.6 L1054.0 257.8 L1057.0 257.0 L1060.0 256.2 L1063.0 255.4 L1066.0 254.6 L1069.0 253.7 L1072.0 252.8 L1075.0 251.8 L1078.0 250.8 L1081.0 249.8 L1084.0 248.9 L1087.0 248.2 L1090.0 247.6 L1093.0 247.1 L1096.0 246.7 L1099.0 246.5 L1102.0 246.2 L1105.0 246.0 L1108.0 245.9 L1111.0 245.8 L1114.0 245.8 L1117.0 246.0 L1120.0 246.3 L1123.0 246.5 L1126.0 246.7 L1129.0 246.8 L1132.0 246.8 L1135.0 246.8 L1138.0 246.8 L1141.0 246.7 L1144.0 246.7 L1147.0 246.7 L1150.0 246.6 L1153.0 246.5 L1156.0 246.5 L1159.0 246.4 L1162.0 246.4 L1165.0 246.3 L1168.0 246.2 L1171.0 246.2 L1174.0 246.1 L1177.0 246.1 L1180.0 246.0 L1183.0 246.0 L1186.0 246.0 L1189.0 246.0 L1192.0 246.0 L1195.0 246.1 L1198.0 246.1 L1201.0 246.1 L1204.0 246.2 L1207.0 246.2 L1210.0 246.2 L1213.0 246.0 L1216.0 245.5 L1219.0 245.0 L1222.0 244.4 L1225.0 243.8 L1228.0 243.3 L1231.0 242.9 L1234.0 242.4 L1237.0 242.0 L1240.0 241.5 L1243.0 241.1 L1246.0 240.8 L1249.0 240.5 L1252.0 240.2 L1255.0 239.9 L1258.0 239.7 L1261.0 239.6 L1264.0 239.6 L1267.0 239.7 L1270.0 239.7 L1273.0 239.8 L1276.0 239.9 L1279.0 239.9 L1282.0 239.9 L1285.0 239.7 L1288.0 239.4 L1291.0 239.1 L1294.0 238.7 L1297.0 238.4 L1300.0 238.2 L1303.0 237.8 L1306.0 237.5 L1309.0 237.3 L1312.0 237.2 L1315.0 237.4 L1318.0 237.8 L1321.0 237.9 L1324.0 238.0 L1327.0 238.1 L1330.0 238.1 L1333.0 238.2 L1336.0 238.2 L1339.0 238.3 L1342.0 238.4 L1345.0 238.4 L1348.0 238.5 L1351.0 238.6 L1354.0 238.7 L1357.0 238.7 L1360.0 238.8 L1363.0 238.9 L1366.0 239.0 L1369.0 239.0 L1372.0 239.1 L1375.0 239.1 L1378.0 239.1 L1381.0 239.1 L1384.0 239.0 L1387.0 239.0 L1390.0 238.9 L1393.0 238.8 L1396.0 238.7 L1399.0 238.5 L1402.0 238.3 L1405.0 238.0 L1408.0 237.7 L1411.0 237.3 L1414.0 236.8 L1417.0 236.2 L1420.0 235.5 L1423.0 234.8 L1426.0 234.0 L1429.0 233.2 L1432.0 232.4 L1435.0 231.5 L1438.0 230.6 L1441.0 229.7 L1444.0 228.7 L1447.0 227.7 L1450.0 226.7 L1453.0 225.7 L1456.0 224.8 L1459.0 223.8 L1462.0 223.0 L1465.0 222.1 L1468.0 221.3 L1471.0 220.4 L1474.0 219.4 L1477.0 218.4 L1480.0 217.4 L1483.0 216.3 L1486.0 215.2 L1489.0 214.2 L1492.0 213.1 L1495.0 212.0 L1498.0 210.9 L1501.0 209.8 L1504.0 208.6 L1507.0 207.5 L1510.0 206.4 L1513.0 205.2 L1516.0 204.1 L1519.0 202.9 L1522.0 201.7 L1525.0 200.5 L1528.0 199.4 L1531.0 198.2 L1534.0 197.0 L1537.0 195.8 L1540.0 194.6 L1543.0 193.3 L1546.0 192.1 L1549.0 190.9 L1550.6 190.2" fill="none" stroke="#ff6d00" stroke-width="1.2"/>
<path d="M819.5 191.4 L1374.5 222.8" stroke="#2962ff" stroke-width="1.2" fill="none"/>
<path d="M1065.5 206.4 H1616 M1128.5 270.4 H1616" stroke="#2962ff" stroke-width="1.3" fill="none"/>
<path d="M10 78.5 H1616" stroke="#089981" stroke-width="1" stroke-dasharray="1 2" fill="none"/>
<path d="M19 426h1V436h-1Z M17 428h5V436h-5Z M26 425h1V434h-1Z M24 425h5V429h-5Z M38 416h1V427h-1Z M36 416h5V427h-5Z M45 412h1V418h-1Z M43 412h5V417h-5Z M64 425h1V430h-1Z M62 428h5V429h-5Z M70 424h1V432h-1Z M68 426h5V429h-5Z M82 436h1V457h-1Z M80 438h5V453h-5Z M127 466h1V483h-1Z M125 467h5V483h-5Z M133 458h1V468h-1Z M131 460h5V468h-5Z M139 453h1V465h-1Z M137 455h5V461h-5Z M145 448h1V456h-1Z M143 448h5V456h-5Z M152 436h1V449h-1Z M150 438h5V449h-5Z M164 458h1V469h-1Z M162 461h5V464h-5Z M171 453h1V462h-1Z M169 459h5V462h-5Z M177 455h1V464h-1Z M175 458h5V460h-5Z M183 450h1V460h-1Z M181 454h5V459h-5Z M196 453h1V460h-1Z M194 458h5V460h-5Z M202 453h1V461h-1Z M200 455h5V459h-5Z M215 456h1V467h-1Z M213 461h5V462h-5Z M221 447h1V462h-1Z M219 453h5V461h-5Z M227 441h1V454h-1Z M225 442h5V454h-5Z M234 433h1V447h-1Z M232 434h5V443h-5Z M252 451h1V457h-1Z M250 454h5V457h-5Z M271 462h1V476h-1Z M269 472h5V474h-5Z M278 461h1V474h-1Z M276 464h5V473h-5Z M290 464h1V468h-1Z M288 465h5V468h-5Z M297 465h1V466h-1Z M295 465h5V466h-5Z M303 458h1V467h-1Z M301 460h5V467h-5Z M322 462h1V470h-1Z M320 463h5V469h-5Z M328 463h1V464h-1Z M326 463h5V464h-5Z M334 452h1V464h-1Z M332 452h5V464h-5Z M353 451h1V461h-1Z M351 455h5V461h-5Z M360 449h1V457h-1Z M358 451h5V456h-5Z M366 446h1V453h-1Z M364 449h5V452h-5Z M372 440h1V451h-1Z M370 442h5V450h-5Z M385 447h1V452h-1Z M383 447h5V452h-5Z M391 441h1V449h-1Z M389 441h5V448h-5Z M397 432h1V443h-1Z M395 435h5V442h-5Z M410 435h1V443h-1Z M408 437h5V440h-5Z M416 425h1V439h-1Z M414 426h5V438h-5Z M423 420h1V427h-1Z M421 422h5V427h-5Z M435 413h1V424h-1Z M433 418h5V424h-5Z M448 419h1V429h-1Z M446 420h5V428h-5Z M460 409h1V424h-1Z M458 410h5V424h-5Z M467 403h1V412h-1Z M465 408h5V411h-5Z M473 399h1V417h-1Z M471 403h5V410h-5Z M479 394h1V406h-1Z M477 395h5V404h-5Z M486 383h1V396h-1Z M484 389h5V396h-5Z M498 382h1V392h-1Z M496 390h5V392h-5Z M504 374h1V391h-1Z M502 375h5V390h-5Z M517 375h1V389h-1Z M515 377h5V379h-5Z M523 369h1V378h-1Z M521 369h5V378h-5Z M536 376h1V384h-1Z M534 378h5V384h-5Z M542 366h1V380h-1Z M540 367h5V379h-5Z M548 363h1V372h-1Z M546 366h5V367h-5Z M555 360h1V370h-1Z M553 366h5V367h-5Z M567 360h1V371h-1Z M565 362h5V367h-5Z M580 368h1V380h-1Z M578 373h5V375h-5Z M599 380h1V392h-1Z M597 380h5V392h-5Z M605 369h1V383h-1Z M603 372h5V381h-5Z M611 368h1V379h-1Z M609 371h5V373h-5Z M624 368h1V379h-1Z M622 375h5V376h-5Z M637 371h1V384h-1Z M635 373h5V382h-5Z M643 365h1V376h-1Z M641 367h5V374h-5Z M649 350h1V368h-1Z M647 350h5V368h-5Z M662 346h1V352h-1Z M660 346h5V352h-5Z M668 335h1V347h-1Z M666 336h5V347h-5Z M674 330h1V339h-1Z M672 332h5V337h-5Z M700 335h1V344h-1Z M698 340h5V344h-5Z M712 328h1V341h-1Z M710 329h5V341h-5Z M719 320h1V330h-1Z M717 320h5V330h-5Z M725 307h1V323h-1Z M723 308h5V322h-5Z M737 302h1V314h-1Z M735 305h5V312h-5Z M763 339h1V354h-1Z M761 352h5V353h-5Z M769 316h1V356h-1Z M767 321h5V353h-5Z M775 292h1V324h-1Z M773 292h5V322h-5Z M782 270h1V293h-1Z M780 273h5V293h-5Z M794 274h1V282h-1Z M792 275h5V282h-5Z M800 240h1V276h-1Z M798 240h5V276h-5Z M813 213h1V244h-1Z M811 215h5V244h-5Z M832 232h1V258h-1Z M830 238h5V258h-5Z M844 237h1V263h-1Z M842 240h5V248h-5Z M870 263h1V277h-1Z M868 271h5V273h-5Z M876 242h1V272h-1Z M874 243h5V272h-5Z M882 212h1V246h-1Z M880 213h5V243h-5Z M901 239h1V261h-1Z M899 246h5V253h-5Z M914 264h1V280h-1Z M912 269h5V274h-5Z M926 272h1V309h-1Z M924 272h5V292h-5Z M939 269h1V284h-1Z M937 275h5V282h-5Z M945 255h1V283h-1Z M943 257h5V276h-5Z M952 246h1V258h-1Z M950 249h5V258h-5Z M964 233h1V257h-1Z M962 236h5V256h-5Z M989 244h1V270h-1Z M987 248h5V258h-5Z M1002 228h1V255h-1Z M1000 228h5V255h-5Z M1015 227h1V240h-1Z M1013 231h5V238h-5Z M1033 242h1V255h-1Z M1031 246h5V251h-5Z M1046 235h1V249h-1Z M1044 236h5V247h-5Z M1052 223h1V241h-1Z M1050 227h5V237h-5Z M1059 208h1V229h-1Z M1057 212h5V228h-5Z M1071 221h1V233h-1Z M1069 226h5V228h-5Z M1084 226h1V239h-1Z M1082 231h5V232h-5Z M1109 242h1V250h-1Z M1107 243h5V247h-5Z M1128 251h1V270h-1Z M1126 253h5V263h-5Z M1134 235h1V254h-1Z M1132 242h5V254h-5Z M1140 235h1V245h-1Z M1138 236h5V242h-5Z M1153 239h1V246h-1Z M1151 243h5V246h-5Z M1159 240h1V255h-1Z M1157 242h5V243h-5Z M1172 248h1V259h-1Z M1170 249h5V254h-5Z M1178 244h1V250h-1Z M1176 246h5V250h-5Z M1185 232h1V247h-1Z M1183 236h5V247h-5Z M1203 229h1V247h-1Z M1201 239h5V247h-5Z M1216 234h1V244h-1Z M1214 238h5V242h-5Z M1222 222h1V239h-1Z M1220 223h5V239h-5Z M1229 212h1V228h-1Z M1227 213h5V224h-5Z M1260 243h1V251h-1Z M1258 245h5V250h-5Z M1273 249h1V262h-1Z M1271 256h5V262h-5Z M1279 234h1V259h-1Z M1277 234h5V257h-5Z M1285 227h1V239h-1Z M1283 231h5V235h-5Z M1292 225h1V238h-1Z M1290 228h5V231h-5Z M1304 222h1V233h-1Z M1302 223h5V233h-5Z M1323 235h1V244h-1Z M1321 239h5V241h-5Z M1329 232h1V240h-1Z M1327 236h5V239h-5Z M1342 238h1V243h-1Z M1340 242h5V243h-5Z M1361 238h1V250h-1Z M1359 239h5V249h-5Z M1374 229h1V247h-1Z M1372 231h5V242h-5Z M1386 224h1V238h-1Z M1384 224h5V234h-5Z M1392 223h1V231h-1Z M1390 223h5V225h-5Z M1399 215h1V227h-1Z M1397 217h5V224h-5Z M1405 206h1V221h-1Z M1403 208h5V218h-5Z M1411 195h1V211h-1Z M1409 199h5V208h-5Z M1418 179h1V201h-1Z M1416 181h5V199h-5Z M1424 167h1V183h-1Z M1422 173h5V182h-5Z M1437 160h1V179h-1Z M1435 165h5V178h-5Z M1443 146h1V167h-1Z M1441 149h5V167h-5Z M1455 143h1V154h-1Z M1453 148h5V154h-5Z M1468 143h1V151h-1Z M1466 147h5V151h-5Z M1474 134h1V152h-1Z M1472 137h5V148h-5Z M1481 128h1V137h-1Z M1479 133h5V137h-5Z M1499 134h1V150h-1Z M1497 134h5V148h-5Z M1506 114h1V135h-1Z M1504 115h5V135h-5Z M1512 101h1V118h-1Z M1510 109h5V116h-5Z M1525 110h1V123h-1Z M1523 114h5V119h-5Z M1531 103h1V119h-1Z M1529 111h5V115h-5Z M1537 88h1V113h-1Z M1535 88h5V113h-5Z M1544 76h1V100h-1Z M1542 80h5V89h-5Z M1550 69h1V82h-1Z M1548 78h5V81h-5Z" fill="#089981"/>
<path d="M13 421h1V437h-1Z M11 424h5V436h-5Z M32 425h1V432h-1Z M30 425h5V427h-5Z M51 412h1V430h-1Z M49 412h5V427h-5Z M57 420h1V429h-1Z M55 426h5V429h-5Z M76 424h1V454h-1Z M74 426h5V453h-5Z M89 436h1V446h-1Z M87 438h5V445h-5Z M95 444h1V467h-1Z M93 444h5V465h-5Z M101 462h1V474h-1Z M99 464h5V472h-5Z M108 465h1V480h-1Z M106 471h5V480h-5Z M114 476h1V490h-1Z M112 479h5V482h-5Z M120 478h1V485h-1Z M118 481h5V483h-5Z M158 433h1V466h-1Z M156 435h5V464h-5Z M189 454h1V464h-1Z M187 454h5V460h-5Z M208 453h1V463h-1Z M206 455h5V462h-5Z M240 431h1V447h-1Z M238 434h5V447h-5Z M246 442h1V457h-1Z M244 446h5V457h-5Z M259 452h1V460h-1Z M257 454h5V458h-5Z M265 455h1V475h-1Z M263 457h5V474h-5Z M284 460h1V468h-1Z M282 463h5V468h-5Z M309 459h1V467h-1Z M307 460h5V467h-5Z M315 462h1V472h-1Z M313 464h5V469h-5Z M341 450h1V460h-1Z M339 452h5V460h-5Z M347 455h1V466h-1Z M345 458h5V461h-5Z M378 442h1V453h-1Z M376 443h5V452h-5Z M404 434h1V440h-1Z M402 435h5V440h-5Z M429 421h1V428h-1Z M427 422h5V423h-5Z M441 417h1V430h-1Z M439 418h5V428h-5Z M454 419h1V426h-1Z M452 420h5V424h-5Z M492 386h1V398h-1Z M490 389h5V392h-5Z M511 364h1V383h-1Z M509 375h5V379h-5Z M530 365h1V385h-1Z M528 369h5V383h-5Z M561 362h1V372h-1Z M559 366h5V367h-5Z M574 361h1V381h-1Z M572 362h5V375h-5Z M586 371h1V388h-1Z M584 373h5V387h-5Z M593 382h1V398h-1Z M591 386h5V393h-5Z M618 369h1V380h-1Z M616 371h5V376h-5Z M630 372h1V384h-1Z M628 374h5V382h-5Z M656 345h1V353h-1Z M654 350h5V352h-5Z M681 329h1V339h-1Z M679 332h5V333h-5Z M687 332h1V347h-1Z M685 333h5V340h-5Z M693 336h1V346h-1Z M691 340h5V344h-5Z M706 337h1V343h-1Z M704 340h5V341h-5Z M731 300h1V315h-1Z M729 308h5V312h-5Z M744 294h1V330h-1Z M742 305h5V312h-5Z M750 304h1V342h-1Z M748 311h5V336h-5Z M756 329h1V360h-1Z M754 335h5V353h-5Z M788 270h1V286h-1Z M786 275h5V282h-5Z M807 236h1V258h-1Z M805 240h5V246h-5Z M819 191h1V233h-1Z M817 215h5V230h-5Z M826 227h1V266h-1Z M824 229h5V258h-5Z M838 232h1V264h-1Z M836 238h5V248h-5Z M851 238h1V254h-1Z M849 240h5V248h-5Z M857 245h1V264h-1Z M855 248h5V258h-5Z M863 256h1V284h-1Z M861 257h5V273h-5Z M889 210h1V235h-1Z M887 213h5V234h-5Z M895 218h1V257h-1Z M893 233h5V253h-5Z M907 246h1V282h-1Z M905 246h5V274h-5Z M920 267h1V294h-1Z M918 269h5V292h-5Z M933 268h1V299h-1Z M931 272h5V285h-5Z M958 239h1V260h-1Z M956 249h5V256h-5Z M970 236h1V246h-1Z M968 236h5V242h-5Z M977 238h1V258h-1Z M975 240h5V254h-5Z M983 246h1V261h-1Z M981 253h5V258h-5Z M996 246h1V262h-1Z M994 248h5V258h-5Z M1008 225h1V243h-1Z M1006 228h5V238h-5Z M1021 221h1V241h-1Z M1019 230h5V238h-5Z M1027 230h1V251h-1Z M1025 237h5V251h-5Z M1040 238h1V253h-1Z M1038 245h5V246h-5Z M1065 206h1V228h-1Z M1063 207h5V228h-5Z M1078 222h1V234h-1Z M1076 226h5V233h-5Z M1090 230h1V241h-1Z M1088 232h5V233h-5Z M1096 223h1V239h-1Z M1094 225h5V233h-5Z M1103 232h1V255h-1Z M1101 232h5V247h-5Z M1115 238h1V250h-1Z M1113 243h5V246h-5Z M1122 245h1V267h-1Z M1120 245h5V262h-5Z M1147 233h1V250h-1Z M1145 236h5V247h-5Z M1166 239h1V257h-1Z M1164 241h5V254h-5Z M1191 230h1V241h-1Z M1189 234h5V241h-5Z M1197 233h1V247h-1Z M1195 240h5V247h-5Z M1210 237h1V250h-1Z M1208 239h5V242h-5Z M1235 210h1V228h-1Z M1233 213h5V227h-5Z M1241 224h1V237h-1Z M1239 226h5V233h-5Z M1248 231h1V246h-1Z M1246 232h5V243h-5Z M1254 239h1V253h-1Z M1252 247h5V250h-5Z M1266 243h1V263h-1Z M1264 245h5V262h-5Z M1298 227h1V235h-1Z M1296 228h5V233h-5Z M1311 220h1V230h-1Z M1309 221h5V224h-5Z M1317 221h1V241h-1Z M1315 223h5V241h-5Z M1336 230h1V244h-1Z M1334 235h5V243h-5Z M1348 235h1V246h-1Z M1346 242h5V243h-5Z M1355 239h1V249h-1Z M1353 243h5V249h-5Z M1367 237h1V246h-1Z M1365 238h5V242h-5Z M1380 230h1V235h-1Z M1378 231h5V234h-5Z M1430 171h1V188h-1Z M1428 173h5V178h-5Z M1449 137h1V153h-1Z M1447 149h5V153h-5Z M1462 145h1V156h-1Z M1460 147h5V152h-5Z M1487 127h1V146h-1Z M1485 132h5V144h-5Z M1493 138h1V152h-1Z M1491 142h5V148h-5Z M1518 105h1V124h-1Z M1516 109h5V119h-5Z" fill="#f23645"/>
</g>
<path d="M10 598.5 H1678" stroke="#e0e3eb" stroke-width="1" fill="none"/>
<rect x="10" y="10" width="1668" height="740" rx="2" fill="none" stroke="#d9dce6" stroke-width="1"/>
<g clip-path="url(#cax)">
<text x="1624.9" y="41.0" fill="#131722" textLength="44.5" lengthAdjust="spacingAndGlyphs">4000.00</text>
<text x="1624.9" y="103.1" fill="#131722" textLength="44.5" lengthAdjust="spacingAndGlyphs">3800.00</text>
<text x="1624.9" y="165.2" fill="#131722" textLength="44.5" lengthAdjust="spacingAndGlyphs">3600.00</text>
<text x="1624.9" y="351.7" fill="#131722" textLength="44.5" lengthAdjust="spacingAndGlyphs">3000.00</text>
<text x="1624.9" y="413.9" fill="#131722" textLength="44.5" lengthAdjust="spacingAndGlyphs">2800.00</text>
<text x="1624.9" y="476.0" fill="#131722" textLength="44.5" lengthAdjust="spacingAndGlyphs">2600.00</text>
<text x="1624.9" y="538.2" fill="#131722" textLength="44.5" lengthAdjust="spacingAndGlyphs">2400.00</text>
<text x="1624.9" y="600.3" fill="#131722" textLength="44.5" lengthAdjust="spacingAndGlyphs">2200.00</text>
</g>
<text x="1625.3" y="628.2" fill="#131722" textLength="36.5" lengthAdjust="spacingAndGlyphs">125.00</text>
<text x="1624.7" y="699.0" fill="#131722" textLength="30.8" lengthAdjust="spacingAndGlyphs">75.00</text>
<path d="M1616 69.0H1674.2a2 2 0 0 1 2 2V85.7a2 2 0 0 1 -2 2H1616Z" fill="#089981"/>
<text x="1625.4" y="83.0" fill="#fff" textLength="45.0" lengthAdjust="spacingAndGlyphs">3865.46</text>
<path d="M1616 200.6H1674.2a2 2 0 0 1 2 2V215.3a2 2 0 0 1 -2 2H1616Z" fill="#2962ff"/>
<text x="1625.4" y="214.0" fill="#fff" textLength="45.0" lengthAdjust="spacingAndGlyphs">3452.72</text>
<path d="M1616 181.1H1674.2a2 2 0 0 1 2 2V198.6a2 2 0 0 1 -2 2H1616Z" fill="#ff6d00"/>
<text x="1625.4" y="195.3" fill="#fff" textLength="45.0" lengthAdjust="spacingAndGlyphs">3503.77</text>
<path d="M1616 217.3H1674.2a2 2 0 0 1 2 2V234.5a2 2 0 0 1 -2 2H1616Z" fill="#2196f3"/>
<text x="1625.4" y="231.5" fill="#fff" textLength="45.0" lengthAdjust="spacingAndGlyphs">3419.73</text>
<path d="M1616 261.4H1674.2a2 2 0 0 1 2 2V277.6a2 2 0 0 1 -2 2H1616Z" fill="#2962ff"/>
<text x="1625.4" y="275.4" fill="#fff" textLength="45.0" lengthAdjust="spacingAndGlyphs">3247.83</text>
<path d="M1616 279.6H1674.2a2 2 0 0 1 2 2V296.8a2 2 0 0 1 -2 2H1616Z" fill="#26c6da"/>
<text x="1625.4" y="293.3" fill="#131722" textLength="45.0" lengthAdjust="spacingAndGlyphs">3192.88</text>
<path d="M1616 601.9H1666.0a2 2 0 0 1 2 2V618.7a2 2 0 0 1 -2 2H1616Z" fill="#000"/>
<text x="1626.1" y="615.8" fill="#fff" textLength="36.5" lengthAdjust="spacingAndGlyphs" font-weight="bold">133.81</text>
<path d="M1616 650.1H1666.0a2 2 0 0 1 2 2V666.7a2 2 0 0 1 -2 2H1616Z" fill="#a3a3a3"/>
<text x="1626.1" y="663.9" fill="#222" textLength="37.4" lengthAdjust="spacingAndGlyphs">100.00</text>
<text x="57.5" y="740.0" fill="#131722" text-anchor="middle">Nov</text>
<text x="189.5" y="740.0" fill="#131722" text-anchor="middle">Dec</text>
<text x="328.5" y="740.0" fill="#131722" text-anchor="middle" font-weight="bold">2025</text>
<text x="473.5" y="740.0" fill="#131722" text-anchor="middle">Feb</text>
<text x="599.5" y="740.0" fill="#131722" text-anchor="middle">Mar</text>
<text x="731.5" y="740.0" fill="#131722" text-anchor="middle">Apr</text>
<text x="863.5" y="740.0" fill="#131722" text-anchor="middle">May</text>
<text x="1002.5" y="740.0" fill="#131722" text-anchor="middle">Jun</text>
<text x="1134.5" y="740.0" fill="#131722" text-anchor="middle">Jul</text>
<text x="1279.5" y="740.0" fill="#131722" text-anchor="middle">Aug</text>
<text x="1411.5" y="740.0" fill="#131722" text-anchor="middle">Sep</text>
<text x="1550.5" y="740.0" fill="#131722" text-anchor="middle">Oct</text>
<text x="18.1" y="29.9" fill="#131722" textLength="73.7" lengthAdjust="spacingAndGlyphs">XAU/USD, 1D</text>
<text x="99.9" y="29.9" textLength="51.9" lengthAdjust="spacingAndGlyphs"><tspan fill="#131722">O</tspan><tspan fill="#089981">3859.63</tspan></text>
<text x="160.8" y="29.9" textLength="51.2" lengthAdjust="spacingAndGlyphs"><tspan fill="#131722">H</tspan><tspan fill="#089981">3895.29</tspan></text>
<text x="220.7" y="29.9" textLength="49.5" lengthAdjust="spacingAndGlyphs"><tspan fill="#131722">L</tspan><tspan fill="#089981">3853.48</tspan></text>
<text x="278.7" y="29.9" textLength="50.9" lengthAdjust="spacingAndGlyphs"><tspan fill="#131722">C</tspan><tspan fill="#089981">3865.46</tspan></text>
<text x="338.4" y="29.9" fill="#089981" textLength="81.7" lengthAdjust="spacingAndGlyphs">+6.69 (+0.17%)</text>
<text x="18.1" y="47.6" fill="#131722" textLength="250.8" lengthAdjust="spacingAndGlyphs">Moving Average Triple (50, 100, 200, Simple)</text>
<text x="277.8" y="47.6" fill="#ff6d00" textLength="43.6" lengthAdjust="spacingAndGlyphs">3503.77</text>
<text x="329.6" y="47.6" fill="#2196f3" textLength="43.3" lengthAdjust="spacingAndGlyphs">3419.73</text>
<text x="381.1" y="47.6" fill="#26c6da" textLength="43.9" lengthAdjust="spacingAndGlyphs">3192.88</text>
<text x="18.1" y="65.5" fill="#131722" textLength="155.5" lengthAdjust="spacingAndGlyphs">Pivots (Traditional, Daily, 1)</text>
<text x="18.3" y="619.0" fill="#131722" textLength="180.7" lengthAdjust="spacingAndGlyphs">FXS Fed Sentiment Index (close)</text>
<text x="207.6" y="619.0" fill="#131722" textLength="36.8" lengthAdjust="spacingAndGlyphs">133.81</text>
<text x="253.2" y="619.0" fill="#b0b0b0" textLength="36.8" lengthAdjust="spacingAndGlyphs">100.00</text>
</svg>
</body></html>
